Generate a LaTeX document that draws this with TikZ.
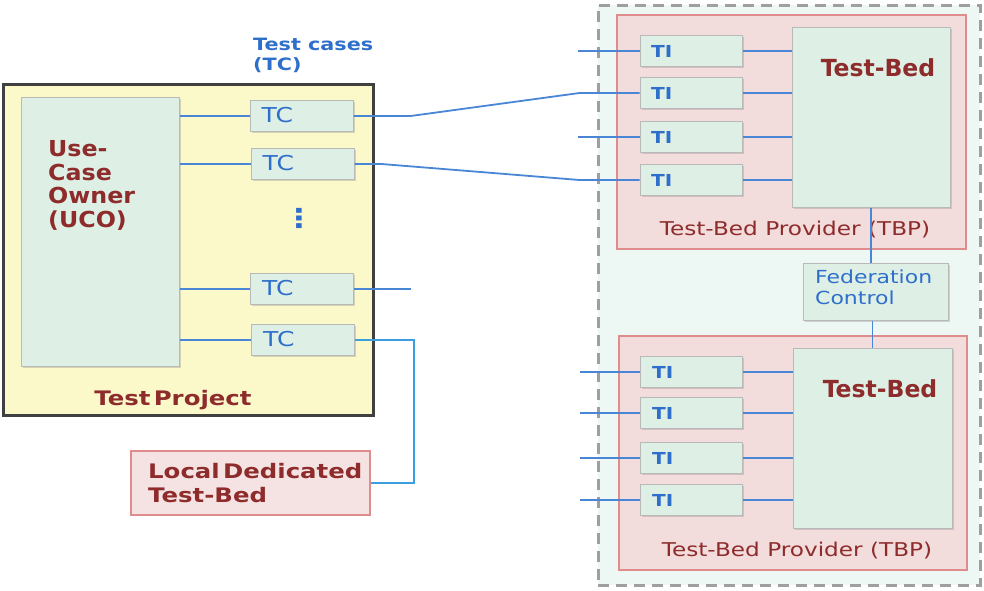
\documentclass[tikz,border=0pt]{standalone}
\usepackage{fontspec}
\setmainfont{DejaVu Sans}[FakeStretch=1.22]
\newfontfamily\tbfont{DejaVu Sans}
\newfontfamily\ucofont{DejaVu Sans}[FakeStretch=1.08]
\usetikzlibrary{shadows}
\definecolor{dred}{HTML}{8E2B2B}
\definecolor{tblue}{HTML}{2F6FCC}
\definecolor{lblue}{HTML}{4A86D6}
\definecolor{mint}{HTML}{DEEFE5}
\definecolor{pale}{HTML}{EDF7F3}
\definecolor{ylw}{HTML}{FBF8CA}
\definecolor{pinkf}{HTML}{F3DCDC}
\definecolor{pinkd}{HTML}{DE8C8C}
\definecolor{dgray}{HTML}{404040}
\begin{document}
\begin{tikzpicture}[x=1pt,y=-1pt,
  box/.style={draw=gray!55, fill=mint, line width=1pt, inner sep=0pt,
    drop shadow={shadow xshift=1.5pt, shadow yshift=-1.5pt, opacity=0.3}},
  tcbox/.style={box, minimum width=103pt, minimum height=31pt},
  tibox/.style={box, minimum width=102pt, minimum height=31pt},
  tbp/.style={draw=pinkd, fill=pinkf, line width=2.5pt, inner sep=0pt},
  conn/.style={draw=lblue, line width=1.8pt},
  redtxt/.style={text=dred, inner sep=0pt},
  bluetxt/.style={text=tblue, inner sep=0pt},
]
\useasboundingbox (0,0) rectangle (984,590);
% right dashed region
\node[draw=gray!75, fill=pale, dash pattern=on 11pt off 7pt, line width=3pt,
  minimum width=382pt, minimum height=580pt, inner sep=0pt] (fedzone) at (789,295) {};
% TBP providers
\node[tbp, minimum width=349pt, minimum height=234pt] (tbp1) at (791.5,132) {};
\node[tbp, minimum width=348pt, minimum height=234pt] (tbp2) at (793,453) {};
% test-beds
\node[box, minimum width=158pt, minimum height=180pt] (tb1) at (871,117) {};
\node[box, minimum width=159pt, minimum height=180pt] (tb2) at (872.5,438) {};
\node[redtxt, font=\tbfont\bfseries\fontsize{23.5}{26}\selectfont] (tb1t) at (878,68) {Test-Bed};
\node[redtxt, font=\tbfont\bfseries\fontsize{23.5}{26}\selectfont] (tb2t) at (880,389) {Test-Bed};
\node[redtxt, font=\fontsize{19}{20}\selectfont] (tbp1t) at (795,230) {Test-Bed Provider (TBP)};
\node[redtxt, font=\fontsize{19}{20}\selectfont] (tbp2t) at (797,551) {Test-Bed Provider (TBP)};
% federation control
\node[box, minimum width=145pt, minimum height=57pt] (fed) at (875.5,291.5) {};
\node[bluetxt, font=\fontsize{18}{21}\selectfont, align=left, anchor=north west] (fedt) at (815,270) {Federation\\Control};
% TI boxes
\foreach \n/\y in {1/51, 2/93, 3/137, 4/180}{
  \node[tibox] (ti\n) at (691,\y) {};
  \node[bluetxt, font=\bfseries\fontsize{16.5}{19}\selectfont, anchor=west] (ti\n t) at (651,\y) {TI};
}
\foreach \n/\y in {5/372, 6/413, 7/458, 8/500}{
  \node[tibox] (ti\n) at (691.5,\y) {};
  \node[bluetxt, font=\bfseries\fontsize{16.5}{19}\selectfont, anchor=west] (ti\n t) at (652,\y) {TI};
}
\foreach \n in {1,2,3,4}{ \draw[conn] (ti\n.east) -- (ti\n.east -| tb1.west); }
\foreach \n in {5,6,7,8}{ \draw[conn] (ti\n.east) -- (ti\n.east -| tb2.west); }
\foreach \n in {1,3}{ \draw[conn] ([xshift=-62pt]ti\n.west) -- (ti\n.west); }
\foreach \n in {5,6,7,8}{ \draw[conn] ([xshift=-60pt]ti\n.west) -- (ti\n.west); }
\draw[conn, line width=1.4pt] (tb1.south) -- (tb1.south |- fed.north);
\draw[conn, line width=1.4pt] (fed.south -| tb2.north) -- (tb2.north);
% Test project
\node[draw=dgray, fill=ylw, line width=3pt, minimum width=370pt, minimum height=331pt, inner sep=0pt] (tp) at (188,249.5) {};
\node[box, minimum width=158pt, minimum height=269pt] (uco) at (100,231.5) {};
\node[redtxt, align=left, anchor=base west, font=\ucofont\bfseries\fontsize{22}{23.5}\selectfont] (ucot) at (48,227) {Use-\\Case\\Owner\\(UCO)};
\node[redtxt, anchor=base, font=\bfseries\fontsize{20}{22}\selectfont] (tpt) at (173,405) {Test\,Project};
\node[bluetxt, font=\bfseries\fontsize{17}{19.5}\selectfont, align=left, anchor=north west] (tct) at (253,38) {Test cases\\(TC)};
\foreach \n/\x/\y in {1/301.5/116, 2/302.5/164, 3/302/289, 4/303/340}{
  \node[tcbox] (tc\n) at (\x,\y) {};
  \node[bluetxt, font=\fontsize{20.5}{21}\selectfont, anchor=west] (tc\n t) at (\x-40,\y-1) {TC};
  \draw[conn] (tc\n.west -| uco.east) -- (tc\n.west);
}
\node[bluetxt, font=\bfseries\fontsize{26}{26}\selectfont] (dots) at (299,218) {⋮};
% Local dedicated test-bed
\node[tbp, fill=pinkf!80!white, minimum width=239pt, minimum height=64pt] (local) at (250.5,483) {};
\node[redtxt, align=left, anchor=base west, font=\bfseries\fontsize{20}{24}\selectfont] (localt) at (148,502) {Local\,Dedicated\\Test-Bed};
% cross connectors
\draw[conn] (tc1.east) -- ++(57,0) -- ([xshift=-60pt]ti2.west) -- (ti2.west);
\draw[conn] (tc2.east) -- ++(27,0) -- ([xshift=-60pt]ti4.west) -- (ti4.west);
\draw[conn] (tc3.east) -- ++(57,0) coordinate (tc3end);
\draw[conn, draw=lblue!80!cyan] (tc4.east) -- ++(59,0) |- (local.east);
\end{tikzpicture}
\end{document}
